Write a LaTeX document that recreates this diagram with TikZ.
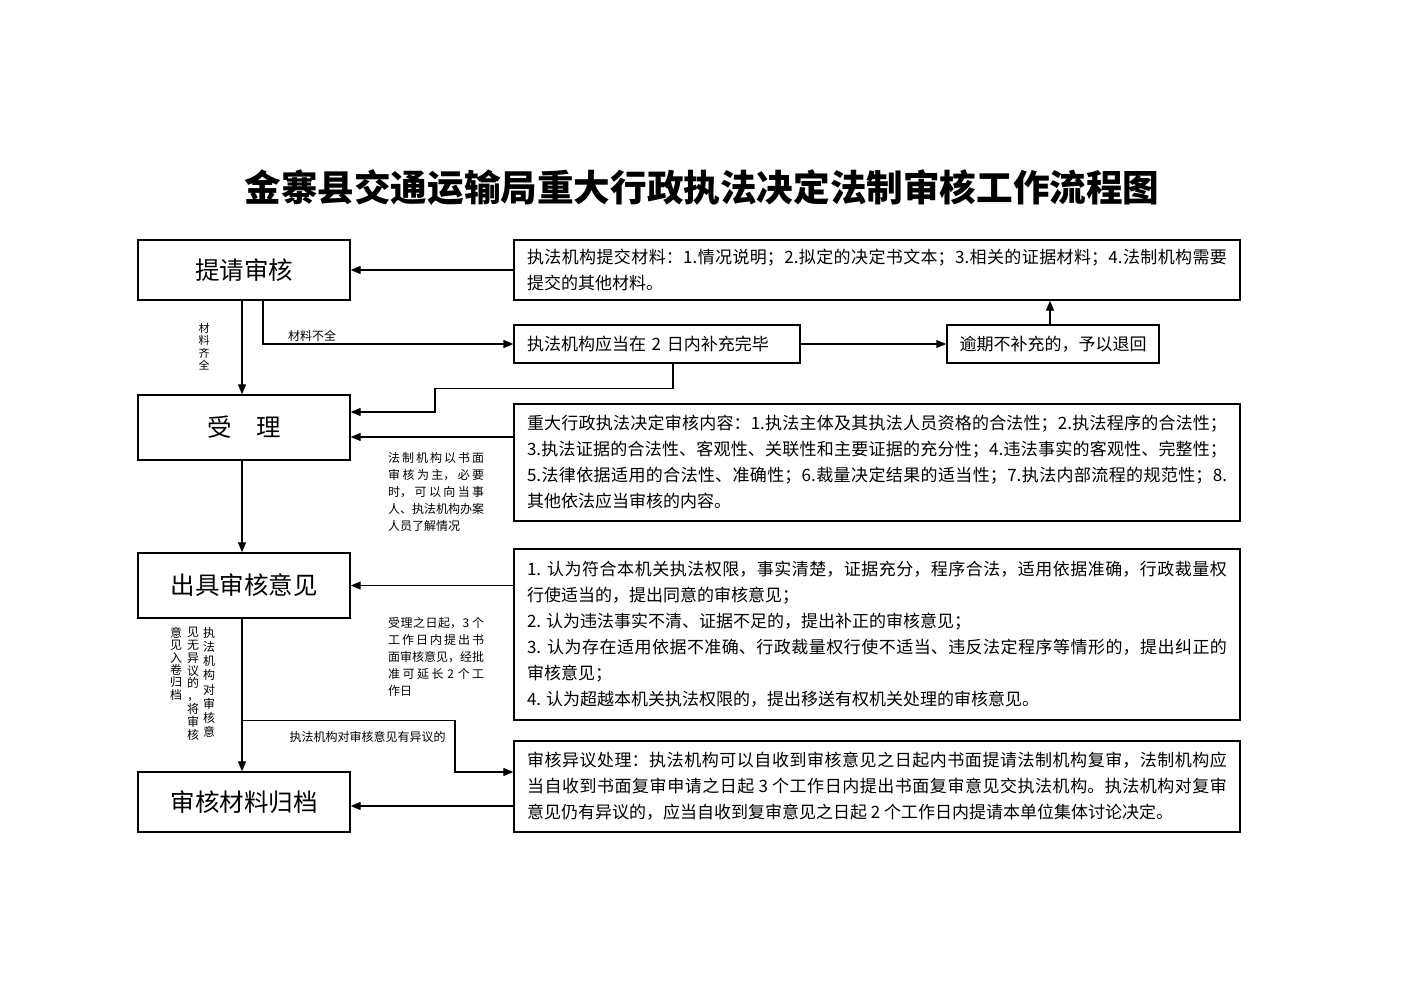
\documentclass[tikz,border=0pt]{standalone}
\usepackage{fontspec}
\newfontfamily\cjk{Noto Sans CJK SC}
\usetikzlibrary{arrows.meta,positioning,calc}
\XeTeXlinebreaklocale "zh"
\XeTeXlinebreakskip=0pt plus 3pt
\tikzset{
  >={Triangle[length=10pt,width=8pt]},
  stepbox/.style={draw=black,line width=1.4pt,minimum width=212pt,
    minimum height=60pt,inner sep=0pt,font=\cjk\fontsize{24.5}{28}\selectfont},
  infobox/.style={draw=black,line width=1.4pt,minimum width=726pt,
    text width=700pt,inner xsep=13pt,inner ysep=0pt,align=justify,
    font=\cjk\fontsize{17}{26}\selectfont},
  notebox/.style={draw=black,line width=1.4pt,minimum height=38pt,
    inner sep=0pt,font=\cjk\fontsize{17}{26}\selectfont},
  flow/.style={->,line width=1.3pt},
  flowlbl/.style={font=\cjk\fontsize{12}{17}\selectfont,inner sep=0pt},
  vlbl/.style={font=\cjk\fontsize{12}{14}\selectfont,inner sep=0pt,
    align=center,anchor=north},
}

\begin{document}
\begin{tikzpicture}[x=1pt,y=-1pt]
  \useasboundingbox (0,0) rectangle (1403,992);
  \node[font=\cjk\bfseries\fontsize{36.6}{40}\selectfont] (title) at (702,188)
    {金寨县交通运输局重大行政执法决定法制审核工作流程图};

  % left column
  \node[stepbox] (sq) at (244,270) {提请审核};
  \node[stepbox,minimum height=65pt] (sl) at (244,427.5) {受　理};
  \node[stepbox,minimum height=65pt] (yj) at (244,585.5) {出具审核意见};
  \node[stepbox] (gd) at (244,802) {审核材料归档};

  % right column
  \node[infobox,minimum height=60pt] (cl) at (877,270)
    {执法机构提交材料：1.情况说明；2.拟定的决定书文本；3.相关的证据材料；4.法制机构需要\linebreak
     提交的其他材料。};
  \node[notebox,minimum width=286pt,text width=260pt,align=left] (bc) at (657,344)
    {执法机构应当在 2 日内补充完毕};
  \node[notebox,minimum width=212pt] (th) at (1053,344) {逾期不补充的，予以退回};
  \node[infobox,minimum height=117pt] (nr) at (877,462.5)
    {重大行政执法决定审核内容：1.执法主体及其执法人员资格的合法性；2.执法程序的合法性；\linebreak
     3.执法证据的合法性、客观性、关联性和主要证据的充分性；4.违法事实的客观性、完整性；\linebreak
     5.法律依据适用的合法性、准确性；6.裁量决定结果的适当性；7.执法内部流程的规范性；8.\linebreak
     其他依法应当审核的内容。};
  \node[infobox,minimum height=171pt] (yjnr) at (877,634.5)
    {1. 认为符合本机关执法权限，事实清楚，证据充分，程序合法，适用依据准确，行政裁量权\linebreak
     行使适当的，提出同意的审核意见；\\
     2. 认为违法事实不清、证据不足的，提出补正的审核意见；\\
     3. 认为存在适用依据不准确、行政裁量权行使不适当、违反法定程序等情形的，提出纠正的\linebreak
     审核意见；\\
     4. 认为超越本机关执法权限的，提出移送有权机关处理的审核意见。};
  \node[infobox,minimum height=91pt] (yy) at (877,786.5)
    {审核异议处理：执法机构可以自收到审核意见之日起内书面提请法制机构复审，法制机构应\linebreak
     当自收到书面复审申请之日起 3 个工作日内提出书面复审意见交执法机构。执法机构对复审\linebreak
     意见仍有异议的，应当自收到复审意见之日起 2 个工作日内提请本单位集体讨论决定。};

  % connectors
  \draw[flow] (cl.west) -- (sq.east);
  \draw[flow] ([xshift=-2pt]sq.south) -- ([xshift=-2pt]sl.north);
  \draw[flow] ([xshift=19pt]sq.south) |- (bc.west);
  \draw[flow] (bc.east) -- (th.west);
  \draw[flow] ([xshift=-3pt]th.north) -- ([xshift=-3pt]th.north |- cl.south);
  \draw[flow] ([xshift=16pt]bc.south) -- ++(0,25) -| (435,412)
    -- ([yshift=15.5pt]sl.east);
  \draw[flow] ([yshift=25.5pt]nr.west) -- ([yshift=-9.5pt]sl.east);
  \draw[flow] ([xshift=-2pt]sl.south) -- ([xshift=-2pt]yj.north);
  \draw[flow] (yj.east -| yjnr.west) -- (yj.east);
  \draw[flow] ([xshift=-2pt]yj.south) -- ([xshift=-2pt]gd.north);
  \draw[flow] ([xshift=-2pt,yshift=-102pt]yj.south) -| (455,772)
    -- ([yshift=14.5pt]yy.west);
  \draw[flow] ([yshift=-19.5pt]yy.west) -- ([yshift=-4pt]gd.east);

  % labels
  \node[vlbl,font=\cjk\fontsize{11}{12.3}\selectfont] (qq) at (204,323)
    {材\\料\\齐\\全};
  \node[flowlbl] (bq) at (312,336) {材料不全};
  \node[flowlbl,text width=96pt,align=justify,anchor=north west] (sm) at (388,452)
    {法制机构以书面\linebreak 审核为主，必要\linebreak 时，可以向当事\linebreak
     人、执法机构办案\linebreak 人员了解情况};
  \node[flowlbl,text width=96pt,align=justify,anchor=north west] (qx) at (388,617)
    {受理之日起，3 个\linebreak 工作日内提出书\linebreak 面审核意见，经批\linebreak
     准可延长 2 个工\linebreak 作日};
  \node[vlbl,font=\cjk\fontsize{12}{14.2}\selectfont] (wy1) at (209,627)
    {执\\法\\机\\构\\对\\审\\核\\意};
  \node[vlbl,font=\cjk\fontsize{12}{12.8}\selectfont] (wy2) at (193,627)
    {见\\无\\异\\议\\的\\，\\将\\审\\核};
  \node[vlbl,font=\cjk\fontsize{12}{12.4}\selectfont] (wy3) at (176,627)
    {意\\见\\入\\卷\\归\\档};
  \node[flowlbl] (yl) at (367.5,737) {执法机构对审核意见有异议的};
\end{tikzpicture}
\end{document}
